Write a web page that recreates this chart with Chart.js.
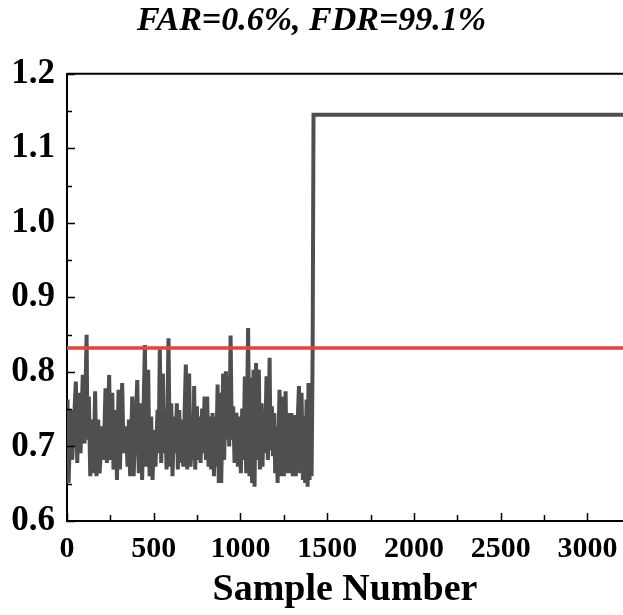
<!DOCTYPE html>
<html>
<head>
<meta charset="utf-8">
<script src="https://cdn.jsdelivr.net/npm/chart.js@4.4.1/dist/chart.umd.min.js"></script>
<style>
  body { margin: 0; background: #fff; }
  #wrap { width: 623px; height: 615px; }
</style>
</head>
<body>
<div id="wrap"><canvas id="mon_chart"></canvas></div>
<script>
// monitoring statistic (sample number -> value)
const sampleNo = [
  0, 3, 9, 22, 30, 51, 59, 70, 78, 91, 101, 113, 118, 126, 134, 145, 153, 162, 170, 180, 188,
  203, 211, 222, 230, 243, 251, 261, 268, 280, 288, 297, 305, 318, 326, 341, 349,
  357, 364, 376, 384, 405, 414, 426, 433, 449, 457, 468, 476, 485, 493, 503, 510, 522, 528,
  535, 543, 553, 558, 566, 574, 585, 593, 601, 608, 618, 625, 633, 639, 647, 654, 662, 670,
  685, 693, 704, 712, 723, 728,
  733, 739, 749, 754, 764, 770, 779, 785, 793, 801, 808, 816, 824, 831, 839, 847, 854, 860,
  868, 875, 883, 889, 900, 906, 916, 922, 929, 935, 943, 950, 958, 966, 977, 985, 996, 1002,
  1010, 1018, 1025, 1033, 1044, 1052, 1060, 1067, 1075, 1081, 1090,
  1097, 1106, 1112, 1122, 1127, 1135, 1141, 1150, 1158, 1168, 1173, 1181, 1187, 1195, 1200,
  1208, 1214, 1225, 1233, 1243, 1250, 1260, 1267, 1279, 1287, 1294, 1302, 1312, 1319, 1337,
  1344, 1352, 1360, 1367, 1373, 1381, 1387, 1392, 1398, 1404, 1410, 1416, 1421, 3205
];
const statValue = [
  0.745, 0.763, 0.651, 0.749, 0.682, 0.787, 0.678, 0.772, 0.691, 0.796, 0.704, 0.850, 0.709, 0.767, 0.660, 0.736, 0.664, 0.774, 0.660, 0.736, 0.664,
  0.727, 0.682, 0.778, 0.678, 0.796, 0.682, 0.772, 0.669, 0.749, 0.655, 0.776, 0.669, 0.785, 0.691, 0.727, 0.673,
  0.736, 0.660, 0.767, 0.660, 0.789, 0.664, 0.758, 0.655, 0.836, 0.673, 0.803, 0.660, 0.740, 0.655, 0.722, 0.673, 0.749, 0.691,
  0.830, 0.678, 0.798, 0.691, 0.749, 0.669, 0.845, 0.673, 0.758, 0.660, 0.740, 0.691, 0.758, 0.669, 0.749, 0.678, 0.736, 0.673,
  0.810, 0.669, 0.798, 0.673, 0.731, 0.682,
  0.781, 0.669, 0.754, 0.682, 0.740, 0.678, 0.751, 0.691, 0.767, 0.682, 0.767, 0.673, 0.740, 0.669, 0.745, 0.660, 0.740, 0.673,
  0.783, 0.651, 0.772, 0.651, 0.798, 0.682, 0.801, 0.709, 0.767, 0.700, 0.849, 0.709, 0.754, 0.678, 0.745, 0.673, 0.740, 0.664,
  0.751, 0.682, 0.794, 0.664, 0.859, 0.660, 0.792, 0.651, 0.803, 0.646, 0.812,
  0.682, 0.803, 0.669, 0.758, 0.673, 0.749, 0.691, 0.794, 0.682, 0.819, 0.695, 0.754, 0.687, 0.745, 0.664,
  0.727, 0.651, 0.776, 0.660, 0.767, 0.660, 0.774, 0.664, 0.745, 0.664, 0.745, 0.660, 0.742, 0.660, 0.781,
  0.664, 0.772, 0.655, 0.740, 0.651, 0.763, 0.646, 0.785, 0.655, 0.785, 0.660, 0.830, 1.145, 1.145
];
const controlLimit = 0.832;
const xRange = [0, 3205];
const yRange = [0.6, 1.2];
const xTicks = [0, 250, 500, 750, 1000, 1250, 1500, 1750, 2000, 2250, 2500, 2750, 3000];
const xLabels = ["0", "", "500", "", "1000", "", "1500", "", "2000", "", "2500", "", "3000"];
const yTicks = [0.6, 0.65, 0.7, 0.75, 0.8, 0.85, 0.9, 0.95, 1.0, 1.05, 1.1, 1.15, 1.2];
const yLabels = ["0.6", "", "0.7", "", "0.8", "", "0.9", "", "1.0", "", "1.1", "", "1.2"];
const chartTitle = "FAR=0.6%, FDR=99.1%";
const xTitle = "Sample Number";

const serif = "'Liberation Serif', 'Times New Roman', serif";

// ticks point into the plot (labelled ones longer), plus the top frame line
const frameTicks = {
  id: "frameTicks",
  afterDraw(chart) {
    const c = chart.ctx;
    const a = chart.chartArea;
    const xs = chart.scales.x, ys = chart.scales.y;
    c.save();
    c.strokeStyle = "#000";
    c.lineWidth = 1.5;
    c.beginPath();
    xs.ticks.forEach((t, i) => {
      const px = Math.round(xs.getPixelForValue(t.value)) + 0.5;
      c.moveTo(px, a.bottom);
      c.lineTo(px, a.bottom - (xLabels[i] ? 8 : 6));
    });
    ys.ticks.forEach((t, i) => {
      const py = Math.round(ys.getPixelForValue(t.value)) + 0.5;
      c.moveTo(a.left, py);
      c.lineTo(a.left + (yLabels[i] ? 8 : 5), py);
    });
    c.stroke();
    c.lineWidth = 2;
    c.beginPath();
    c.moveTo(a.left, a.top);
    c.lineTo(a.right, a.top);
    c.stroke();
    c.restore();
  },
};

let ctx = document.getElementById("mon_chart").getContext("2d");
let myChart = new Chart(ctx, {
  type: "line",
  data: {
    datasets: [
      {
        label: "limit",
        data: xRange.map((x) => ({ x: x, y: controlLimit })),
        borderColor: "#e8423f",
        borderWidth: 3.5,
        pointRadius: 0,
        order: 0,
      },
      {
        label: "statistic",
        data: sampleNo.map((x, i) => ({ x: x, y: statValue[i] })),
        borderColor: "#4f4f4f",
        borderWidth: 4,
        pointRadius: 0,
        tension: 0,
        order: 1,
      },
    ],
  },
  options: {
    responsive: true,
    maintainAspectRatio: false,
    animation: false,
    layout: { padding: 0 },
    plugins: {
      legend: { display: false },
      tooltip: { enabled: false },
      title: {
        display: true,
        text: chartTitle,
        color: "#000",
        font: { family: serif, size: 34, weight: "bold", style: "italic", lineHeight: 1.2 },
        padding: { top: 1, bottom: 32 },
      },
    },
    scales: {
      x: {
        type: "linear",
        min: xRange[0],
        max: xRange[1],
        afterBuildTicks: (s) => { s.ticks = xTicks.map((v) => ({ value: v })); },
        grid: { display: false, drawTicks: false },
        border: { display: true, color: "#000", width: 2 },
        ticks: {
          autoSkip: false,
          maxRotation: 0,
          padding: 10,
          color: "#000",
          font: { family: serif, size: 30, weight: "bold" },
          callback: (v, i) => xLabels[i],
        },
        title: {
          display: true,
          text: xTitle,
          color: "#000",
          font: { family: serif, size: 38, weight: "bold", lineHeight: 1.2 },
          padding: { top: 0, bottom: 2 },
        },
        afterFit: (s) => { s.height = 94; s.paddingRight = 0; },
      },
      y: {
        min: yRange[0],
        max: yRange[1],
        afterBuildTicks: (s) => { s.ticks = yTicks.map((v) => ({ value: v })); },
        grid: { display: false, drawTicks: false },
        border: { display: true, color: "#000", width: 2 },
        ticks: {
          autoSkip: false,
          padding: 12,
          color: "#000",
          font: { family: serif, size: 35, weight: "bold" },
          callback: (v, i) => yLabels[i],
        },
        afterFit: (s) => { s.width = 67; },
      },
    },
  },
  plugins: [frameTicks],
});
</script>
</body>
</html>
